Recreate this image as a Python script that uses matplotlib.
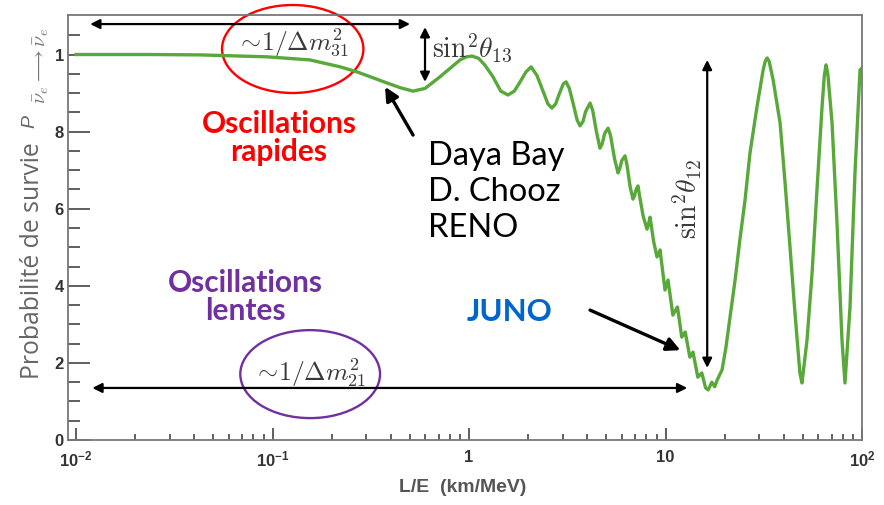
import matplotlib
matplotlib.use("Agg")
import matplotlib.pyplot as plt
from matplotlib.patches import Ellipse

# survival probability (L/E in km/MeV)
le = [0.01, 0.0238, 0.0428, 0.0938, 0.155, 0.221, 0.269, 0.374, 0.446, 0.519,
      0.597, 0.711, 0.90, 0.97, 1.036, 1.12, 1.206, 1.325, 1.45, 1.578,
      1.70, 1.819, 1.95, 2.07, 2.22, 2.38, 2.52, 2.64, 2.76, 2.88,
      3.02, 3.12, 3.24, 3.38, 3.55, 3.67, 3.80, 3.92, 4.13, 4.26,
      4.45, 4.64, 4.76, 4.90, 5.10, 5.25, 5.50, 5.73, 5.86, 5.99,
      6.22, 6.36, 6.60, 6.83, 6.95, 7.08, 7.24, 7.40, 7.70, 8.05,
      8.20, 8.34, 8.70, 9.05, 9.22, 9.38, 9.94, 10.3, 10.9, 11.5,
      12.1, 12.6, 13.3, 13.8, 14.6, 15.3, 16.0, 16.5, 17.2, 17.8,
      18.3, 19.4, 20.3, 21.3, 22.6, 23.9, 25.4, 26.9, 29.2, 31.4,
      32.2, 32.9, 33.7, 35.3, 38.3, 40.6, 43.0, 45.6, 48.3, 49.5,
      52.5, 55.7, 59.0, 62.6, 64.3, 65.6, 67.0, 70.4, 74.6, 79.1,
      81.9, 86.9, 92.1, 97.7, 100.0]
prob = [1.0, 1.0, 0.999, 0.994, 0.986, 0.968, 0.955, 0.928, 0.914, 0.905,
        0.912, 0.942, 0.986, 0.994, 0.996, 0.99, 0.972, 0.942, 0.905, 0.895,
        0.905, 0.929, 0.955, 0.968, 0.945, 0.905, 0.872, 0.861, 0.872, 0.898,
        0.924, 0.929, 0.912, 0.875, 0.830, 0.815, 0.826, 0.852, 0.874, 0.855,
        0.800, 0.757, 0.768, 0.795, 0.809, 0.790, 0.730, 0.693, 0.705, 0.725,
        0.737, 0.715, 0.658, 0.625, 0.633, 0.650, 0.659, 0.630, 0.580, 0.547,
        0.560, 0.578, 0.515, 0.475, 0.482, 0.493, 0.389, 0.415, 0.324, 0.345,
        0.267, 0.28, 0.215, 0.228, 0.163, 0.174, 0.135, 0.13, 0.15, 0.138,
        0.155, 0.182, 0.24, 0.319, 0.415, 0.519, 0.623, 0.744, 0.864, 0.96,
        0.983, 0.991, 0.982, 0.934, 0.822, 0.667, 0.501, 0.329, 0.174, 0.148,
        0.259, 0.433, 0.649, 0.864, 0.945, 0.973, 0.950, 0.822, 0.563, 0.259,
        0.148, 0.345, 0.693, 0.96, 0.965]

xticks = [0.01, 0.1, 1, 10, 100]
xtick_labels = ["$10^{-2}$", "$10^{-1}$", "1", "10", "$10^{2}$"]
yticks = [0, 0.2, 0.4, 0.6, 0.8, 1.0]
ytick_labels = ["0", "2", "4", "6", "8", "1"]

plt.rcParams["mathtext.fontset"] = "custom"
plt.rcParams["mathtext.rm"] = "Liberation Sans:bold"
plt.rcParams["mathtext.bf"] = "Liberation Sans:bold"
plt.rcParams["mathtext.it"] = "Liberation Sans:italic"

fig = plt.figure(figsize=(8.84, 5.05), dpi=100)
ax = fig.add_axes([68/884, 65/505, 794/884, 425/505])

ax.plot(le, prob, color="#58A83A", lw=2.4, solid_joinstyle="round")

ax.set_xscale("log")
ax.set_xlim(0.0091, 100)
ax.set_ylim(0, 1.1025)

minor_x = [m * 10.0**d for d in range(-2, 2) for m in range(2, 10)]
ax.set_xticks(xticks, labels=xtick_labels)
ax.set_xticks(minor_x, minor=True)
ax.set_xticklabels([], minor=True)
ax.set_yticks(yticks, labels=ytick_labels)
ax.set_yticks([i * 0.05 for i in range(22)], minor=True)

for lab in ax.get_xticklabels() + ax.get_yticklabels():
    lab.set_fontfamily("Liberation Sans")
    lab.set_fontweight("bold")
    lab.set_fontsize(12)
    lab.set_color("#333333")

ax.tick_params(which="both", direction="in", color="#444444", width=1.2,
               top=False, right=False)
ax.tick_params(axis="y", which="major", length=16, pad=3)
ax.tick_params(axis="y", which="minor", length=8.5)
ax.tick_params(axis="x", which="major", length=8.5, pad=7)
ax.tick_params(axis="x", which="minor", length=4.5)
for s in ax.spines.values():
    s.set_color("#777777")
    s.set_linewidth(1.3)

# y title: words, italic P, then the subscript
fig.text(33/884, 1 - 261/505, "Probabilité de survie", rotation=90,
         ha="center", va="center", fontsize=17.8, color="#666666",
         family="Open Sans")
fig.text(30/884, 1 - 121/505, "P", rotation=90, ha="center", va="center",
         fontsize=14, fontstyle="italic", color="#666666",
         family="Liberation Sans")
fig.text(41/884, 1 - 66/505, r"$\bar{\nu}_e \longrightarrow \bar{\nu}_e$",
         rotation=90, ha="center", va="center", fontsize=14.5, color="#777777",
         math_fontfamily="cm")
fig.text(463/884, 1 - 487/505, "L/E  (km/MeV)", ha="center", va="center",
         fontsize=14, fontweight="bold", color="#555555", family="Liberation Sans")

dbl = dict(arrowstyle="<|-|>", color="black", lw=1.6, mutation_scale=14,
           shrinkA=0, shrinkB=0)
one = dict(arrowstyle="-|>", color="black", lw=2.4, mutation_scale=20,
           shrinkA=0, shrinkB=0)

# fast oscillation scale
ax.annotate("", xy=(0.0118, 1.079), xytext=(0.501, 1.079), arrowprops=dbl,
            annotation_clip=False)
ax.text(0.126, 1.03, r"$\sim\!1/\Delta m^2_{31}$", math_fontfamily="cm",
        fontsize=18.5, color="#3a3a3a", ha="center", va="center")
ax.add_patch(Ellipse((0.283, 0.92), 0.178, 0.207, transform=ax.transAxes,
                     fill=False, ec="red", lw=1.7, clip_on=False))

ax.annotate("", xy=(0.597, 1.071), xytext=(0.597, 0.929), arrowprops=dbl)
ax.text(0.65, 1.017, r"$\sin^2\!\theta_{13}$", math_fontfamily="cm",
        fontsize=20, color="#3a3a3a", ha="left", va="center")

ax.text(0.108, 0.783, "Oscillations\nrapides", color="#FF0000", fontsize=21.5,
        fontweight="bold", family="Lato", ha="center", va="center",
        linespacing=1.0)

ax.text(0.618, 0.643, "Daya Bay\nD. Chooz\nRENO", color="black", fontsize=23.5,
        family="Lato", ha="left", va="center", linespacing=1.25)
ax.annotate("", xy=(0.374, 0.916), xytext=(0.519, 0.791), arrowprops=one)

# slow oscillation scale
ax.text(0.0724, 0.371, "Oscillations\nlentes", color="#7030A0", fontsize=21.5,
        fontweight="bold", family="Lato", ha="center", va="center",
        linespacing=1.0)
ax.annotate("", xy=(0.0121, 0.135), xytext=(12.9, 0.135), arrowprops=dbl)
ax.text(0.155, 0.174, r"$\sim\!1/\Delta m^2_{21}$", math_fontfamily="cm",
        fontsize=18.5, color="#3a3a3a", ha="center", va="center")
ax.add_patch(Ellipse((0.305, 0.155), 0.176, 0.207, transform=ax.transAxes,
                     fill=False, ec="#7030A0", lw=1.7, clip_on=False))

ax.text(1.617, 0.332, "JUNO", color="#0066CC", fontsize=22.5, fontweight="bold",
        family="Lato", ha="center", va="center")
ax.annotate("", xy=(11.9, 0.233), xytext=(4.13, 0.337), arrowprops=one)

ax.annotate("", xy=(16.3, 0.986), xytext=(16.3, 0.187), arrowprops=dbl)
ax.text(12.9, 0.625, r"$\sin^2\!\theta_{12}$", math_fontfamily="cm", rotation=90,
        fontsize=20, color="#3a3a3a", ha="center", va="center")

fig.savefig("out.png", dpi=100)
